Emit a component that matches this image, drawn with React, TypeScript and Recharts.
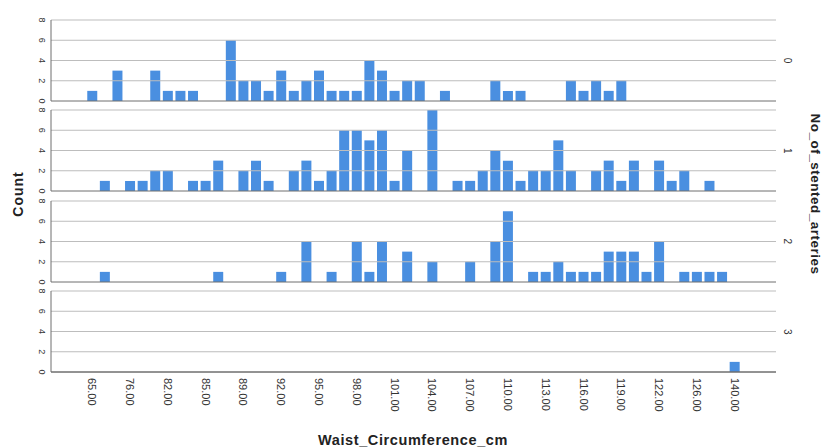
import { BarChart, Bar, XAxis, YAxis, ReferenceLine } from 'recharts';

const categories = [
  65, 70, 74, 76, 78, 80, 82, 83, 84, 85,
  87, 88, 89, 90, 91, 92, 93, 94, 95, 96,
  97, 98, 99, 100, 101, 102, 103, 104, 105, 106,
  107, 108, 109, 110, 111, 112, 113, 114, 115, 116,
  117, 118, 119, 120, 121, 122, 123, 124, 126, 128,
  130, 140,
];

const stents0 = [
  1, 0, 3, 0, 0, 3, 1, 1, 1, 0,
  0, 6, 2, 2, 1, 3, 1, 2, 3, 1,
  1, 1, 4, 3, 1, 2, 2, 0, 1, 0,
  0, 0, 2, 1, 1, 0, 0, 0, 2, 1,
  2, 1, 2, 0, 0, 0, 0, 0, 0, 0,
  0, 0,
];
const stents1 = [
  0, 1, 0, 1, 1, 2, 2, 0, 1, 1,
  3, 0, 2, 3, 1, 0, 2, 3, 1, 2,
  6, 6, 5, 6, 1, 4, 0, 8, 0, 1,
  1, 2, 4, 3, 1, 2, 2, 5, 2, 0,
  2, 3, 1, 3, 0, 3, 1, 2, 0, 1,
  0, 0,
];
const stents2 = [
  0, 1, 0, 0, 0, 0, 0, 0, 0, 0,
  1, 0, 0, 0, 0, 1, 0, 4, 0, 1,
  0, 4, 1, 4, 0, 3, 0, 2, 0, 0,
  2, 0, 4, 7, 0, 1, 1, 2, 1, 1,
  1, 3, 3, 3, 1, 4, 0, 1, 1, 1,
  1, 0,
];
const stents3 = [
  0, 0, 0, 0, 0, 0, 0, 0, 0, 0,
  0, 0, 0, 0, 0, 0, 0, 0, 0, 0,
  0, 0, 0, 0, 0, 0, 0, 0, 0, 0,
  0, 0, 0, 0, 0, 0, 0, 0, 0, 0,
  0, 0, 0, 0, 0, 0, 0, 0, 0, 0,
  0, 1,
];

const panelLabels = ['0', '1', '2', '3'];
const countTicks = [0, 2, 4, 6, 8];

const series = [stents0, stents1, stents2, stents3];
const rows = categories.map((c, i) => ({
  cat: c.toFixed(2),
  v0: stents0[i],
  v1: stents1[i],
  v2: stents2[i],
  v3: stents3[i],
}));

const BAR = '#4a8fe0';
const TOP = 20;
const STEP = 90.4;
const PH = 81;
const FONT = 'Liberation Sans, Arial, sans-serif';

function YTick({ x, y, payload }: any) {
  return (
    <text
      x={x - 1}
      y={y}
      transform={`rotate(90 ${x - 1} ${y})`}
      textAnchor="middle"
      dominantBaseline="central"
      fontSize={9}
      fill="#333"
      fontFamily={FONT}
    >
      {payload.value}
    </text>
  );
}

function XTick({ x, y, payload }: any) {
  return (
    <text
      x={x}
      y={y}
      transform={`rotate(90 ${x} ${y})`}
      textAnchor="start"
      dominantBaseline="central"
      fontSize={11}
      fill="#333"
      fontFamily={FONT}
    >
      {payload.value}
    </text>
  );
}

function Panel({ idx }: { idx: number }) {
  const last = idx === series.length - 1;
  const xh = 60;
  return (
    <div style={{ position: 'absolute', left: 0, top: TOP + idx * STEP - 5 }}>
      <BarChart
        width={826}
        height={PH + 10 + (last ? xh - 5 : 0)}
        data={rows}
        margin={{ top: 5, right: 50, bottom: last ? 0 : 5, left: 0 }}
        barCategoryGap="10%"
      >
        <XAxis
          dataKey="cat"
          hide={!last}
          height={xh}
          interval={2}
          padding={{ left: 35, right: 35 }}
          tick={<XTick />}
          tickLine={false}
          tickMargin={0}
          axisLine={{ stroke: '#6f6f6f' }}
        />
        <YAxis
          width={51}
          domain={[0, 8]}
          ticks={countTicks}
          interval={0}
          tick={<YTick />}
          tickLine={false}
          axisLine={{ stroke: '#6f6f6f' }}
          allowDataOverflow
        />
        {countTicks.slice(1).map((t) => (
          <ReferenceLine key={t} y={t} stroke="#bdbdbd" />
        ))}
        <ReferenceLine y={0} stroke="#6f6f6f" />
        <Bar dataKey={`v${idx}`} fill={BAR} isAnimationActive={false} />
      </BarChart>
    </div>
  );
}

export default function App() {
  return (
    <div style={{ position: 'absolute', left: 0, top: 0, width: 826, height: 447, background: '#fff' }}>
      {series.map((_, i) => (
        <Panel key={i} idx={i} />
      ))}
      <svg
        width={826}
        height={447}
        style={{ position: 'absolute', left: 0, top: 0, pointerEvents: 'none' }}
        fontFamily={FONT}
      >
        {panelLabels.map((l, i) => {
          const cy = TOP + i * STEP + PH / 2;
          return (
            <text
              key={l}
              x={787}
              y={cy}
              transform={`rotate(90 787 ${cy})`}
              textAnchor="middle"
              dominantBaseline="central"
              fontSize={10}
              fill="#333"
            >
              {l}
            </text>
          );
        })}
        <text
          x={815}
          y={194}
          transform="rotate(90 815 194)"
          textAnchor="middle"
          dominantBaseline="central"
          fontSize={13.5}
          fontWeight="bold"
          letterSpacing={0.5}
          fill="#222"
        >
          No_of_stented_arteries
        </text>
        <text
          x={18}
          y={194}
          transform="rotate(-90 18 194)"
          textAnchor="middle"
          dominantBaseline="central"
          fontSize={14}
          fontWeight="bold"
          letterSpacing={1}
          fill="#222"
        >
          Count
        </text>
        <text
          x={413}
          y={440}
          textAnchor="middle"
          dominantBaseline="central"
          fontSize={14.5}
          fontWeight="bold"
          letterSpacing={0.6}
          fill="#222"
        >
          Waist_Circumference_cm
        </text>
      </svg>
    </div>
  );
}
